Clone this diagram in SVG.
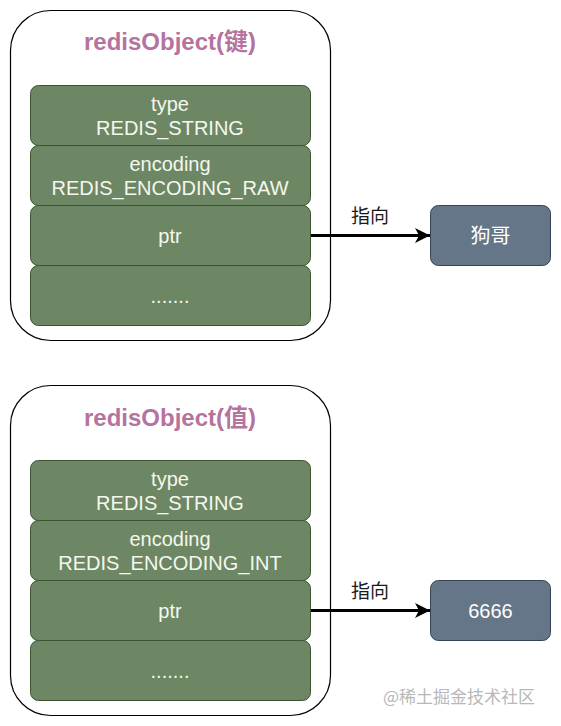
<svg xmlns="http://www.w3.org/2000/svg" width="561" height="726" viewBox="0 0 561 726">
<defs>
<marker id="arr" markerWidth="16" markerHeight="16" viewBox="0 0 16 16" refX="15" refY="8" orient="auto" markerUnits="userSpaceOnUse">
<path d="M0,0.5 L15,8 L0,15.5 L4,8 Z" fill="#000"/>
</marker>
<style>
.outer{fill:#fff;stroke:#000;stroke-width:1.2}
.title{font-family:"Liberation Sans",Arial,"Noto Sans CJK SC",sans-serif;font-size:24px;font-weight:bold;fill:#b5739d;text-anchor:middle}
.row{fill:#6d8764;stroke:#3a5431;stroke-width:1}
.rt{font-family:"Liberation Sans",Arial,"Noto Sans CJK SC",sans-serif;font-size:20px;fill:#f4f7ee;text-anchor:middle}
.val{fill:#647687;stroke:#314354;stroke-width:1}
.vt{font-family:"Liberation Sans",Arial,"Noto Sans CJK SC",sans-serif;font-size:20px;fill:#ffffff;text-anchor:middle}
.lbl{font-family:"Liberation Sans",Arial,"Noto Sans CJK SC",sans-serif;font-size:19px;fill:#1a1a1a;text-anchor:middle}
.edge{stroke:#000;stroke-width:3;fill:none}
.wm{font-family:"Noto Sans CJK SC",sans-serif;font-size:17px;fill:#b8b8b8}
</style>
</defs>

<g id="key">
<rect class="outer" x="10.5" y="10.5" width="320" height="330" rx="40"/>
<text class="title" x="170" y="50">redisObject(键)</text>
<rect class="row" x="30.5" y="85.5" width="280" height="60" rx="8"/>
<text class="rt" x="170" y="111">type</text>
<text class="rt" x="170" y="135">REDIS_STRING</text>
<rect class="row" x="30.5" y="145.5" width="280" height="60" rx="8"/>
<text class="rt" x="170" y="171">encoding</text>
<text class="rt" x="170" y="195">REDIS_ENCODING_RAW</text>
<rect class="row" x="30.5" y="205.5" width="280" height="60" rx="8"/>
<text class="rt" x="170" y="243">ptr</text>
<rect class="row" x="30.5" y="265.5" width="280" height="60" rx="8"/>
<text class="rt" x="170" y="303">.......</text>
</g>

<g id="key-value">
<rect class="val" x="430.5" y="205.5" width="120" height="60" rx="8"/>
<text class="vt" x="490.5" y="243">狗哥</text>
</g>

<g id="val">
<rect class="outer" x="10.5" y="385.5" width="320" height="330" rx="40"/>
<text class="title" x="170" y="426">redisObject(值)</text>
<rect class="row" x="30.5" y="460.5" width="280" height="60" rx="8"/>
<text class="rt" x="170" y="486">type</text>
<text class="rt" x="170" y="510">REDIS_STRING</text>
<rect class="row" x="30.5" y="520.5" width="280" height="60" rx="8"/>
<text class="rt" x="170" y="546">encoding</text>
<text class="rt" x="170" y="570">REDIS_ENCODING_INT</text>
<rect class="row" x="30.5" y="580.5" width="280" height="60" rx="8"/>
<text class="rt" x="170" y="618">ptr</text>
<rect class="row" x="30.5" y="640.5" width="280" height="60" rx="8"/>
<text class="rt" x="170" y="678">.......</text>
</g>

<g id="val-value">
<rect class="val" x="430.5" y="580.5" width="120" height="60" rx="8"/>
<text class="vt" x="490.5" y="618">6666</text>
</g>

<g id="connectors">
<line class="edge" x1="311" y1="235.5" x2="430" y2="235.5" marker-end="url(#arr)"/>
<text class="lbl" x="370" y="223">指向</text>
<line class="edge" x1="311" y1="610.5" x2="430" y2="610.5" marker-end="url(#arr)"/>
<text class="lbl" x="370" y="598">指向</text>
</g>

<text class="wm" x="383" y="703">@稀土掘金技术社区</text>
</svg>
